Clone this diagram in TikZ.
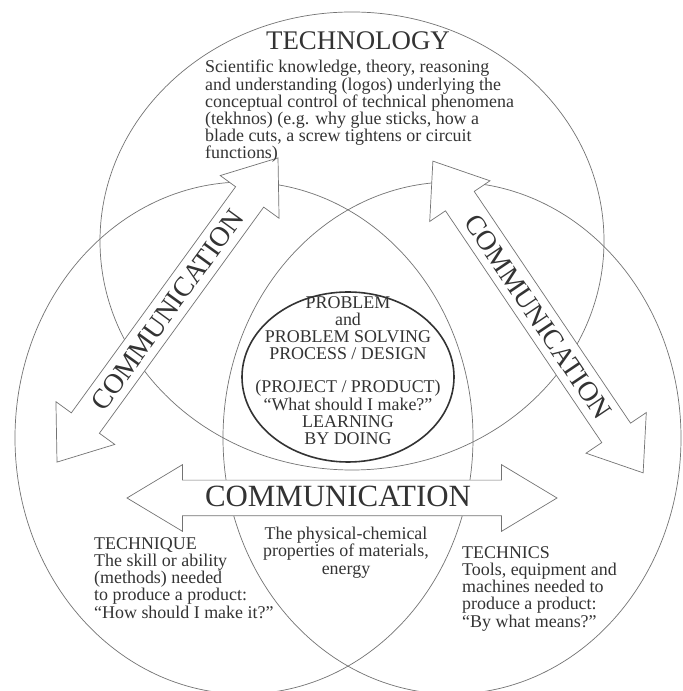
\documentclass[tikz,border=0pt]{standalone}
\usepackage{fontspec}
\setmainfont{Liberation Serif}
\usetikzlibrary{shapes.geometric, shapes.arrows, positioning}

\definecolor{linegray}{gray}{0.45}
\definecolor{inkgray}{gray}{0.2}

\begin{document}
\begin{tikzpicture}[
  x=1bp, y=1bp,
  venn/.style={ellipse, draw=linegray, line width=0.7bp, inner sep=0pt},
  core/.style={ellipse, draw=inkgray, line width=1.6bp, fill=white, inner sep=0pt, minimum width=212bp, minimum height=170bp},
  commarrow/.style={double arrow, draw=linegray, fill=white, line width=0.7bp, inner xsep=0pt, inner ysep=17bp, double arrow head extend=19bp, double arrow tip angle=74, minimum height=376bp},
  commtext/.style={text=inkgray, font=\fontsize{28}{28}\selectfont, inner sep=0pt},
  heading/.style={text=inkgray, font=\fontsize{27}{27}\selectfont, inner sep=0pt},
  bodytext/.style={text=inkgray, font=\fontsize{18}{17.3}\selectfont, inner sep=0pt, align=left}
]
\path[use as bounding box, fill=white] (0,0) rectangle (683,691);

% the three areas
\node[venn, minimum width=504bp, minimum height=458bp] (techcircle) at (352,450) {};
\node[venn, minimum width=458bp, minimum height=512bp] (leftcircle) at (244,253) {};
\node[venn, minimum width=458bp, minimum height=512bp] (rightcircle) at (452,253) {};
\node[core] (problem) at (348,314) {};

% communication arrows
\node[commarrow, rotate=54] (leftcomm) at (167.5,381) {};
\node[commarrow, rotate=-56] (rightcomm) at (538,374) {};
\node[commarrow, minimum height=430bp, inner ysep=17.5bp, double arrow head extend=15.5bp, double arrow tip angle=62] (basecomm) at (342,193) {};
\node[commtext, rotate=54] (leftcommtext) at (leftcomm) {COMMUNICATION};
\node[commtext, rotate=-56] (rightcommtext) at (rightcomm) {COMMUNICATION};
\node[commtext, font=\fontsize{31}{31}\selectfont] (basecommtext) at (338,195) {COMMUNICATION};

% texts
\node[heading, anchor=base] (technology) at (358,641) {TECHNOLOGY};
\node[bodytext, anchor=north west] (logos) at (205,631) {Scientific knowledge, theory, reasoning\\and understanding (logos) underlying the\\conceptual control of technical phenomena\\(tekhnos) (e.g. why glue sticks, how a\\blade cuts, a screw tightens or circuit\\functions)};
\node[bodytext, align=center, anchor=north] (problemtext) at (348,395) {PROBLEM\\and\\PROBLEM SOLVING\\PROCESS / DESIGN\\[16pt](PROJECT / PRODUCT)\\``What should I make?''\\LEARNING\\BY DOING};
\node[bodytext, align=center, anchor=north] (materials) at (346,164) {The physical-chemical\\properties of materials,\\energy};
\node[bodytext, anchor=north west] (technique) at (94,154) {TECHNIQUE\\The skill or ability\\(methods) needed\\to produce a product:\\``How should I make it?''};
\node[bodytext, anchor=north west] (technics) at (462,145) {TECHNICS\\Tools, equipment and\\machines needed to\\produce a product:\\``By what means?''};

\end{tikzpicture}
\end{document}
